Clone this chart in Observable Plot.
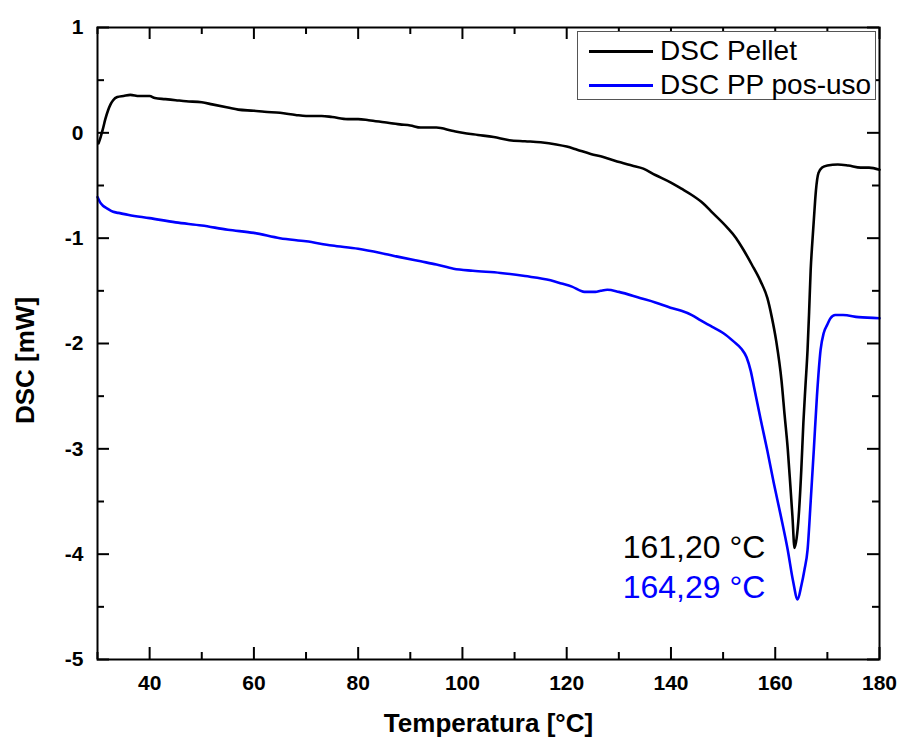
<!DOCTYPE html>
<html>
<head>
<meta charset="utf-8">
<script src="https://cdn.jsdelivr.net/npm/d3@7"></script>
<script src="https://cdn.jsdelivr.net/npm/@observablehq/plot@0.6"></script>
<style>
  body { margin: 0; background: white; }
  #wrap { position: relative; width: 900px; height: 738px; font-family: "Liberation Sans", Arial, sans-serif; }
  #legend { position: absolute; left: 577px; top: 31px; width: 299px; height: 69px; border: 1px solid #555; background: white; box-sizing: border-box; }
  .lrow { position: absolute; left: 0; height: 34px; width: 100%; }
  .lline { position: absolute; left: 11px; width: 64px; height: 3px; top: 16px; }
  .ltext { position: absolute; left: 82px; top: 0; line-height: 34px; font-size: 28px; color: black; white-space: nowrap; }
</style>
</head>
<body>
<div id="wrap"></div>
<script>
// Series: DSC Pellet (black)
const pelletT = [30.2,30.6,31.0,31.5,32.0,32.5,33.0,33.8,35,36.3,38,40,41,43,45,47,50,52,55,57,60,62,65,68,70,73,75,78,80,82,85,88,90,92,95,98,100,103,106,109,112,115,118,120,122,124.6,127,130.3,132.5,134.7,137,139.9,142,144,146.2,148,150.8,152.5,153.9,155.5,157.2,158.5,159.3,160.2,161.2,161.8,162.4,162.9,163.3,163.7,164.1,164.5,165.0,165.4,165.8,166.2,166.5,166.8,167.1,167.4,167.8,168.3,169,170,172,174,176.4,178,180];
const pelletDSC = [-0.10,-0.04,0.03,0.13,0.21,0.27,0.31,0.34,0.35,0.36,0.35,0.35,0.33,0.32,0.31,0.30,0.29,0.27,0.24,0.22,0.21,0.20,0.19,0.17,0.16,0.16,0.15,0.13,0.13,0.12,0.10,0.08,0.07,0.05,0.05,0.02,0.00,-0.02,-0.04,-0.07,-0.08,-0.09,-0.11,-0.13,-0.16,-0.20,-0.23,-0.28,-0.31,-0.34,-0.40,-0.47,-0.53,-0.59,-0.67,-0.76,-0.90,-1.00,-1.11,-1.25,-1.41,-1.57,-1.74,-1.98,-2.35,-2.68,-3.00,-3.35,-3.64,-3.94,-3.85,-3.64,-3.20,-2.75,-2.40,-2.06,-1.70,-1.30,-1.05,-0.83,-0.55,-0.38,-0.33,-0.31,-0.30,-0.31,-0.33,-0.33,-0.35];

// Series: DSC PP pos-uso (blue)
const posusoT = [30,30.5,31,31.9,33,34,36,40,45,50,55,60,65,70,75,80,84.3,88,92,95,98.3,102,107.3,112,116.9,119,121,123.4,125.5,126.5,127.8,130,134.2,137,139.9,142,144,145.7,148.2,150,152,153.5,154.5,155.3,156,157.2,158.5,159.7,161,162.4,163.4,164.3,165,165.6,166.2,166.8,167.4,168,168.7,169.3,170,170.6,171.5,173,176,180];
const posusoDSC = [-0.61,-0.66,-0.69,-0.72,-0.75,-0.76,-0.78,-0.81,-0.85,-0.88,-0.92,-0.95,-1.00,-1.03,-1.07,-1.10,-1.14,-1.18,-1.22,-1.25,-1.29,-1.31,-1.33,-1.36,-1.40,-1.43,-1.46,-1.51,-1.51,-1.50,-1.49,-1.51,-1.57,-1.61,-1.66,-1.69,-1.73,-1.78,-1.85,-1.90,-1.98,-2.05,-2.13,-2.26,-2.43,-2.72,-3.02,-3.32,-3.62,-3.96,-4.25,-4.43,-4.30,-4.15,-3.96,-3.50,-3.01,-2.50,-2.06,-1.90,-1.82,-1.76,-1.73,-1.73,-1.75,-1.76];

// Axis ticks
const xMajor = [40,60,80,100,120,140,160,180];
const xMinor = [30,50,70,90,110,130,150,170];
const yMajor = [1,0,-1,-2,-3,-4,-5];
const yMinor = [0.5,-0.5,-1.5,-2.5,-3.5,-4.5];

// Annotations
const annotText = ["161,20 °C", "164,29 °C"];
const annotX = [158.1, 158.1];
const annotY = [-3.94, -4.32];
const annotColor = ["black", "#0000ff"];

// Legend
const seriesNames = ["DSC Pellet", "DSC PP pos-uso"];
const seriesColors = ["black", "#0000ff"];

const W = 900, H = 738, mL = 97, mR = 21, mT = 27, mB = 79;
const pw = W - mL - mR, ph = H - mT - mB;

const pellet = pelletT.map((t, i) => ({t, v: pelletDSC[i]}));
const posuso = posusoT.map((t, i) => ({t, v: posusoDSC[i]}));
const annots = annotText.map((s, i) => ({s, x: annotX[i], y: annotY[i], c: annotColor[i]}));

const chart = Plot.plot({
  width: W, height: H,
  marginLeft: mL, marginRight: mR, marginTop: mT, marginBottom: mB,
  x: {domain: [30, 180], axis: null},
  y: {domain: [-5, 1], axis: null},
  style: {fontFamily: "'Liberation Sans', Arial, sans-serif", background: "white", color: "black"},
  marks: [
    // tick labels
    Plot.text(xMajor, {x: d => d, frameAnchor: "bottom", lineAnchor: "top", textAnchor: "middle", dy: 16, text: d => String(d), fontSize: 21, fontWeight: "bold", fill: "black"}),
    Plot.text(yMajor, {y: d => d, frameAnchor: "left", lineAnchor: "middle", textAnchor: "end", dx: -14, text: d => String(d), fontSize: 21, fontWeight: "bold", fill: "black"}),
    // inward ticks: bottom / top
    Plot.tickX(xMajor, {x: d => d, insetTop: ph - 12, stroke: "black", strokeWidth: 2}),
    Plot.tickX(xMinor, {x: d => d, insetTop: ph - 7, stroke: "black", strokeWidth: 2}),
    Plot.tickX(xMajor, {x: d => d, insetBottom: ph - 12, stroke: "black", strokeWidth: 2}),
    Plot.tickX(xMinor, {x: d => d, insetBottom: ph - 7, stroke: "black", strokeWidth: 2}),
    // inward ticks: left / right
    Plot.tickY(yMajor, {y: d => d, insetRight: pw - 12, stroke: "black", strokeWidth: 2}),
    Plot.tickY(yMinor, {y: d => d, insetRight: pw - 7, stroke: "black", strokeWidth: 2}),
    Plot.tickY(yMajor, {y: d => d, insetLeft: pw - 12, stroke: "black", strokeWidth: 2}),
    Plot.tickY(yMinor, {y: d => d, insetLeft: pw - 7, stroke: "black", strokeWidth: 2}),
    Plot.line(pellet, {x: "t", y: "v", stroke: seriesColors[0], strokeWidth: 2.6, curve: "monotone-x"}),
    Plot.line(posuso, {x: "t", y: "v", stroke: seriesColors[1], strokeWidth: 2.6, curve: "monotone-x"}),
    Plot.frame({stroke: "black", strokeWidth: 2}),
    Plot.text(annots, {x: "x", y: "y", text: "s", fill: "c", textAnchor: "end", fontSize: 32}),
    Plot.text(["Temperatura [°C]"], {frameAnchor: "bottom", lineAnchor: "middle", textAnchor: "middle", dy: 64, fontSize: 26, fontWeight: "bold", fill: "black"}),
    Plot.text(["DSC [mW]"], {frameAnchor: "left", lineAnchor: "middle", textAnchor: "middle", dx: -72, dy: 17, rotate: -90, fontSize: 26, fontWeight: "bold", fill: "black"})
  ]
});

const wrap = document.getElementById("wrap");
wrap.appendChild(chart);

const legend = document.createElement("div");
legend.id = "legend";
seriesNames.forEach((name, i) => {
  const row = document.createElement("div");
  row.className = "lrow";
  row.style.top = (2 + i * 34) + "px";
  const ln = document.createElement("div");
  ln.className = "lline";
  ln.style.background = seriesColors[i];
  const tx = document.createElement("div");
  tx.className = "ltext";
  tx.textContent = name;
  row.appendChild(ln);
  row.appendChild(tx);
  legend.appendChild(row);
});
wrap.appendChild(legend);
</script>
</body>
</html>
